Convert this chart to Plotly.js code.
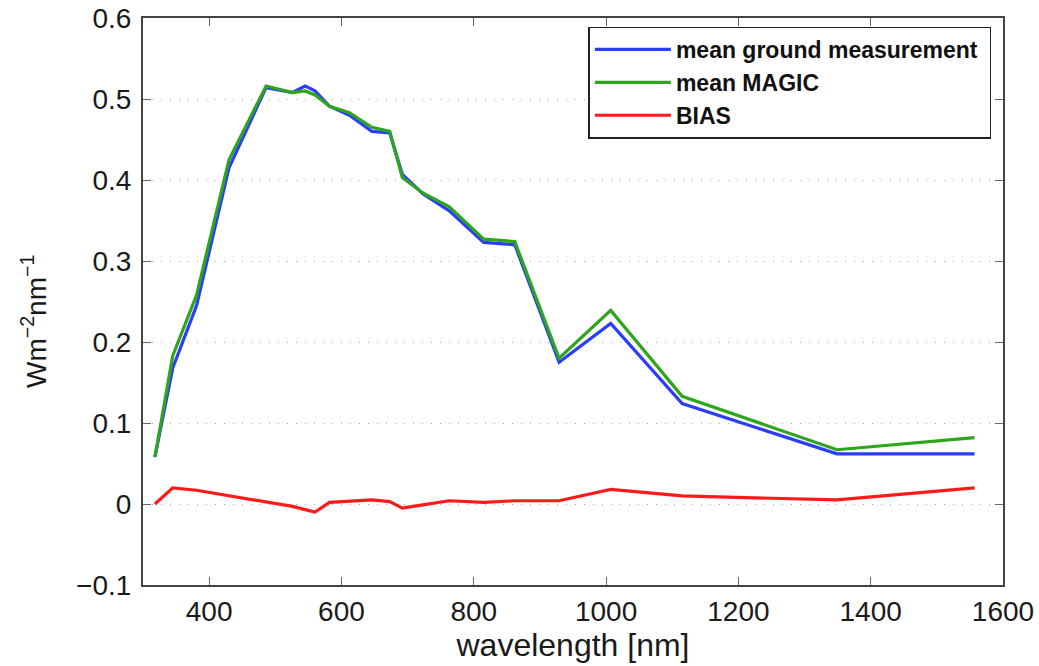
<!DOCTYPE html>
<html><head><meta charset="utf-8">
<script src="https://cdn.plot.ly/plotly-3.0.1.min.js"></script>
<style>body{margin:0;background:#fff}#chart{width:1039px;height:666px}</style>
</head><body><div id="chart"></div>
<script>
const wavelength = [318, 345, 381, 430, 486, 526, 545, 560, 582, 612, 646, 673, 692, 723, 763, 815, 862, 929, 1007, 1115, 1349, 1557];
const groundMean = [0.058, 0.168, 0.245, 0.415, 0.514, 0.508, 0.516, 0.510, 0.491, 0.480, 0.460, 0.458, 0.407, 0.383, 0.362, 0.323, 0.320, 0.175, 0.223, 0.124, 0.062, 0.062];
const magicMean = [0.058, 0.183, 0.258, 0.425, 0.516, 0.508, 0.510, 0.505, 0.491, 0.483, 0.465, 0.460, 0.403, 0.384, 0.367, 0.327, 0.324, 0.180, 0.239, 0.133, 0.067, 0.082];
const bias = [0.0, 0.020, 0.017, 0.010, 0.003, -0.003, -0.007, -0.010, 0.002, 0.003, 0.005, 0.003, -0.005, -0.001, 0.004, 0.002, 0.004, 0.004, 0.018, 0.010, 0.005, 0.020];
const seriesNames = ["mean ground measurement", "mean MAGIC", "BIAS"];
const xTicks = [400, 600, 800, 1000, 1200, 1400, 1600];
const yTicks = [-0.1, 0, 0.1, 0.2, 0.3, 0.4, 0.5, 0.6];
const xTitle = "wavelength [nm]";
const yTitle = "Wm<sup>−2</sup>nm<sup>−1</sup>";

const font = "Liberation Sans, Arial, Helvetica, sans-serif";
const pad = "\u00a0";
const traces = [
  {x: wavelength, y: groundMean, name: seriesNames[0] + pad, mode: "lines", line: {color: "#2b3dfc", width: 3.2}},
  {x: wavelength, y: magicMean, name: seriesNames[1], mode: "lines", line: {color: "#2ea51c", width: 3.2}},
  {x: wavelength, y: bias, name: seriesNames[2], mode: "lines", line: {color: "#ff1a1a", width: 3.2}}
];
const axisCommon = {
  showline: true, linecolor: "#444", linewidth: 2, mirror: "ticks",
  ticks: "inside", ticklen: 8, tickcolor: "#666", tickwidth: 1,
  zeroline: false, tickfont: {family: font, size: 28, color: "#1a1a1a"}
};
const layout = {
  width: 1039, height: 666,
  margin: {l: 143, r: 36, t: 18, b: 81},
  paper_bgcolor: "#fff", plot_bgcolor: "#fff",
  showlegend: true,
  legend: {
    x: 0.9865, xanchor: "right", y: 0.985, yanchor: "top",
    bgcolor: "#fff", bordercolor: "#222", borderwidth: 1.5,
    font: {family: font, size: 23, color: "#111", weight: "bold"},
    tracegroupgap: 0, itemwidth: 76
  },
  xaxis: Object.assign({}, axisCommon, {
    range: [300, 1600], tickvals: xTicks, showgrid: false,
    title: {text: xTitle, font: {family: font, size: 32, color: "#1a1a1a"}, standoff: 0}
  }),
  yaxis: Object.assign({}, axisCommon, {
    range: [-0.1, 0.6], tickvals: yTicks, ticklabelstandoff: 4,
    showgrid: true, gridcolor: "#a8a8a8", griddash: "1px,8px", gridwidth: 1
  }),
  annotations: [{
    text: yTitle, xref: "paper", yref: "paper", x: -0.126, y: 0.465,
    xanchor: "center", yanchor: "middle", textangle: -90, showarrow: false,
    font: {family: font, size: 28, color: "#1a1a1a"}
  }]
};
layout.yaxis.ticktext = yTicks.map(v => v === 0 ? "0" : (v < 0 ? "−" : "") + Math.abs(v).toFixed(1));
Plotly.newPlot("chart", traces, layout, {displayModeBar: false, staticPlot: true});
</script>
</body></html>
